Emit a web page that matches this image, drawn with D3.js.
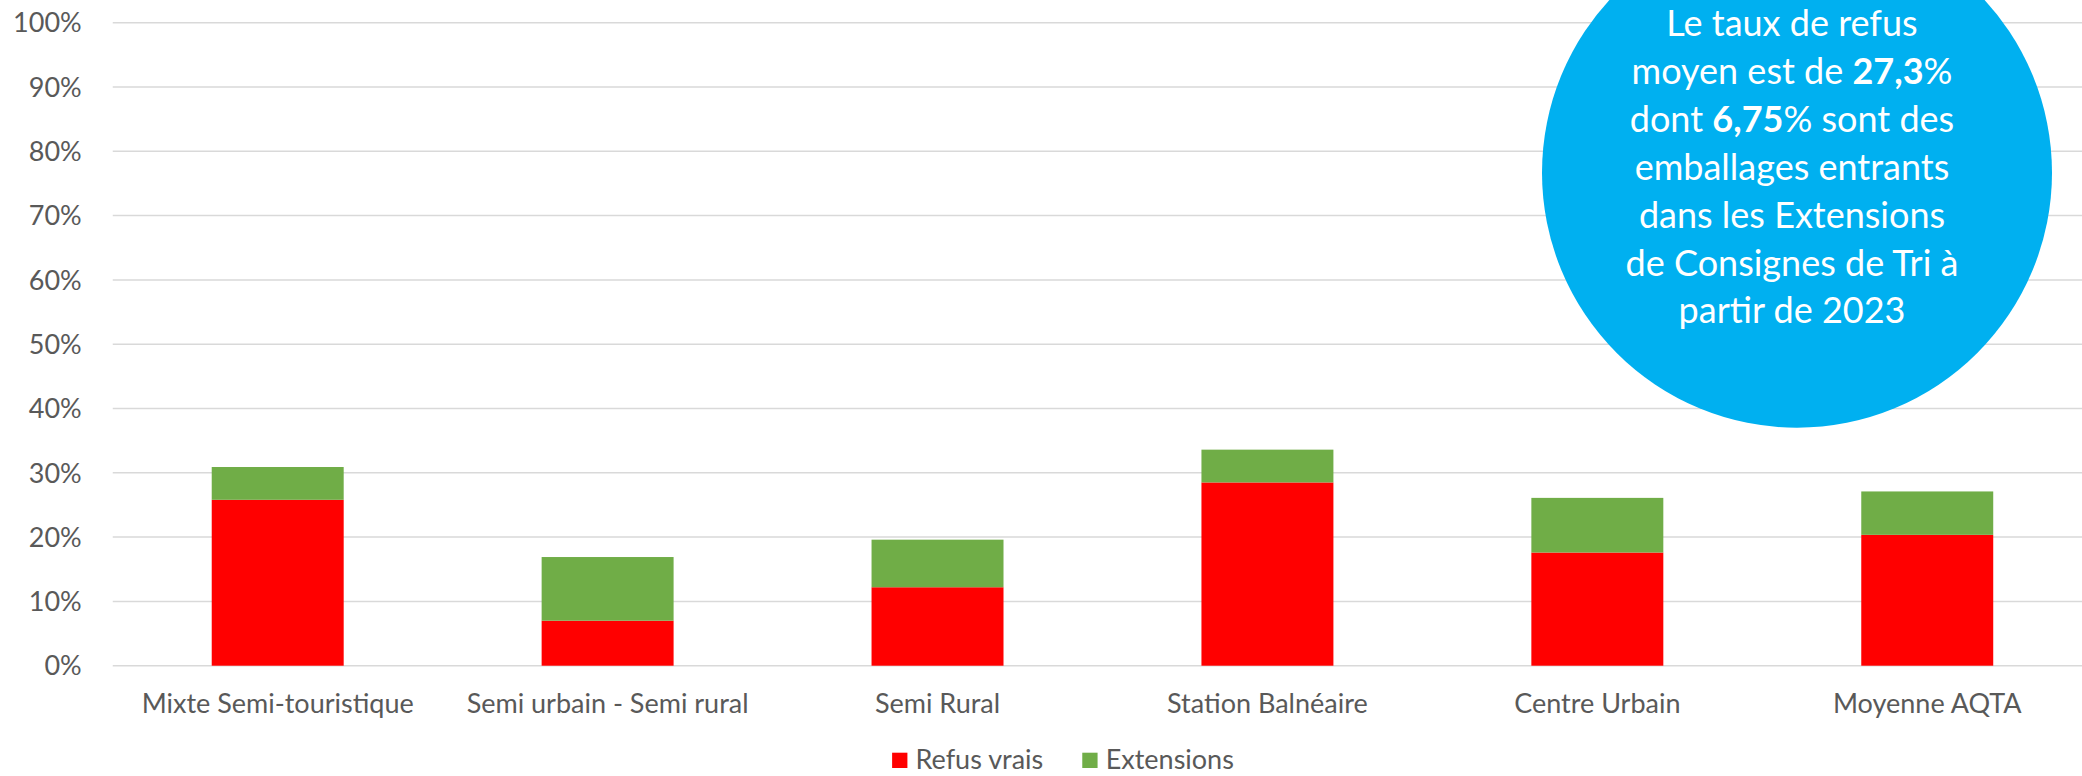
<!DOCTYPE html>
<html>
<head>
<meta charset="utf-8">
<script src="https://cdn.jsdelivr.net/npm/d3@7"></script>
<style>
  html, body { margin: 0; padding: 0; background: #ffffff; overflow: hidden; }
  svg { display: block; font-family: Lato, "Open Sans", sans-serif; }
</style>
</head>
<body>
<svg id="chart" width="2082" height="776"></svg>
<script>
// ---- data ----
const categories = ["Mixte Semi-touristique", "Semi urbain - Semi rural", "Semi Rural", "Station Balnéaire", "Centre Urbain", "Moyenne AQTA"];
const refusVrais = [25.8, 7.0, 12.2, 28.5, 17.6, 20.35];
const extensions = [5.1, 9.9, 7.4, 5.1, 8.5, 6.75];
const yTicks = [0, 10, 20, 30, 40, 50, 60, 70, 80, 90, 100];
const seriesNames = ["Refus vrais", "Extensions"];
const seriesColors = ["#FF0000", "#70AD47"];
const calloutLines = [
  [["Le taux de refus", false]],
  [["moyen est de ", false], ["27,3", true], ["%", false]],
  [["dont ", false], ["6,75", true], ["% sont des", false]],
  [["emballages entrants", false]],
  [["dans les Extensions", false]],
  [["de Consignes de Tri à", false]],
  [["partir de 2023", false]]
];

// ---- layout ----
const W = 2082, H = 776;
const svg = d3.select("#chart");
const textColor = "#595959";
const labelFont = 27;

const x = d3.scaleBand().domain(categories).range([112.75, 2092.2]).paddingInner(0.6).paddingOuter(0.3);
const y = d3.scaleLinear().domain([0, 100]).range([665.7, 22.7]);

// gridlines
svg.append("g").selectAll("line").data(yTicks).join("line")
  .attr("x1", 112.75).attr("x2", 2092.2)
  .attr("y1", d => y(d)).attr("y2", d => y(d))
  .attr("stroke", "#D9D9D9").attr("stroke-width", 1.5);

// y axis labels
svg.append("g").selectAll("text").data(yTicks).join("text")
  .attr("x", 81.7).attr("y", d => y(d))
  .attr("dy", "0.36em")
  .attr("text-anchor", "end")
  .attr("fill", textColor)
  .attr("font-size", labelFont)
  .text(d => d + "%");

// stacked bars
const rows = categories.map((c, i) => ({ cat: c, "Refus vrais": refusVrais[i], "Extensions": extensions[i] }));
const stack = d3.stack().keys(seriesNames)(rows);
const color = d3.scaleOrdinal().domain(seriesNames).range(seriesColors);

svg.append("g").selectAll("g").data(stack).join("g")
  .attr("fill", d => color(d.key))
  .selectAll("rect").data(d => d).join("rect")
  .attr("x", d => x(d.data.cat))
  .attr("width", x.bandwidth())
  .attr("y", d => y(d[1]))
  .attr("height", d => y(d[0]) - y(d[1]));

// category labels
svg.append("g").selectAll("text").data(categories).join("text")
  .attr("x", d => x(d) + x.bandwidth() / 2)
  .attr("y", 713)
  .attr("text-anchor", "middle")
  .attr("fill", textColor)
  .attr("font-size", labelFont)
  .text(d => d);

// legend
const legend = svg.append("g");
const items = legend.selectAll("g").data(seriesNames).join("g");
items.append("rect").attr("width", 15.3).attr("height", 15.3).attr("y", 752.7)
  .attr("fill", d => color(d));
items.append("text").attr("x", 23.4).attr("y", 768.5)
  .attr("fill", textColor).attr("font-size", labelFont).text(d => d);
const widths = [];
items.each(function () { widths.push(d3.select(this).select("text").node().getComputedTextLength()); });
const gap = 39;
const total = widths.reduce((a, w) => a + 23.4 + w, 0) + gap * (widths.length - 1);
let start = 1063 - total / 2;
items.attr("transform", (d, i) => {
  const t = `translate(${start},0)`;
  start += 23.4 + widths[i] + gap;
  return t;
});

// callout circle
const cx = 1797, cy = 172.7, r = 255;
svg.append("circle").attr("cx", cx).attr("cy", cy).attr("r", r).attr("fill", "#00B0F0");
const callout = svg.append("text")
  .attr("text-anchor", "middle")
  .attr("fill", "#ffffff")
  .attr("font-size", 36);
calloutLines.forEach((parts, i) => {
  const line = callout.append("tspan").attr("x", 1792).attr("y", 36 + i * 47.9);
  parts.forEach(([t, b]) => {
    line.append("tspan").attr("font-weight", b ? "bold" : "normal").text(t);
  });
});
</script>
</body>
</html>
